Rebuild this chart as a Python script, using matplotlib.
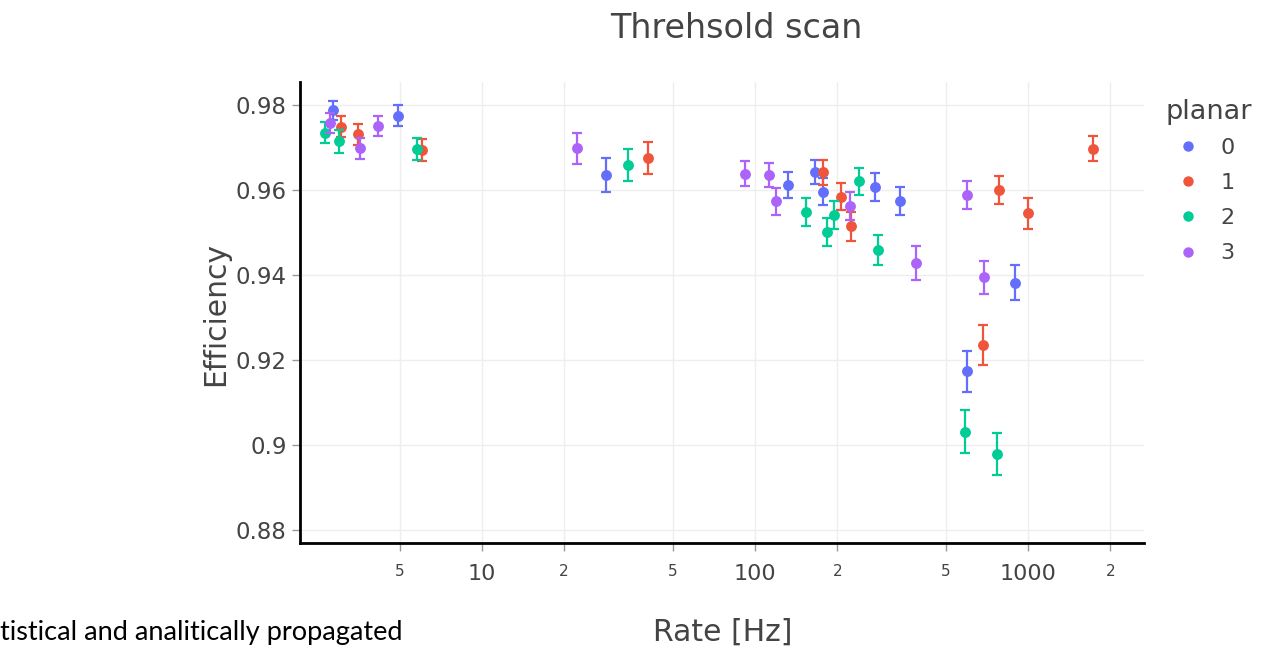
import numpy as np
import matplotlib
matplotlib.use("Agg")
import matplotlib.pyplot as plt
from matplotlib.lines import Line2D
from matplotlib.ticker import FixedLocator


# values (rate in Hz, efficiency, half error)
planars = ["0", "1", "2", "3"]
colors = ["#636efa", "#EF553B", "#00cc96", "#ab63fa"]

rate_0 = [2.86, 4.92, 28.6, 132, 166, 178, 276, 340, 597, 894]
eff_0 = [0.9787, 0.9775, 0.9635, 0.9611, 0.9642, 0.9596, 0.9606, 0.9574, 0.9173, 0.9382]
err_0 = [0.0023, 0.0024, 0.0040, 0.0030, 0.0029, 0.0031, 0.0033, 0.0033, 0.0048, 0.0042]

rate_1 = [3.04, 3.51, 6.02, 40.6, 178, 207, 225, 681, 779, 1002, 1733]
eff_1 = [0.9749, 0.9731, 0.9693, 0.9675, 0.9641, 0.9584, 0.9514, 0.9235, 0.9599, 0.9545, 0.9697]
err_1 = [0.0024, 0.0025, 0.0026, 0.0038, 0.0030, 0.0032, 0.0035, 0.0047, 0.0033, 0.0037, 0.0029]

rate_2 = [2.67, 3.00, 5.77, 34.3, 154, 184, 195, 241, 281, 587, 766]
eff_2 = [0.9735, 0.9714, 0.9696, 0.9659, 0.9549, 0.9500, 0.9541, 0.9620, 0.9459, 0.9031, 0.8979]
err_2 = [0.0025, 0.0026, 0.0026, 0.0038, 0.0033, 0.0033, 0.0033, 0.0032, 0.0035, 0.0051, 0.0050]

rate_3 = [2.77, 3.58, 4.18, 22.4, 92.1, 113, 119, 223, 388, 595, 687]
eff_3 = [0.9757, 0.9698, 0.9751, 0.9698, 0.9638, 0.9635, 0.9573, 0.9562, 0.9429, 0.9588, 0.9394]
err_3 = [0.0023, 0.0025, 0.0024, 0.0036, 0.0029, 0.0029, 0.0031, 0.0032, 0.0040, 0.0032, 0.0038]

rates = [rate_0, rate_1, rate_2, rate_3]
effs = [eff_0, eff_1, eff_2, eff_3]
errs = [err_0, err_1, err_2, err_3]

y_ticks = [0.88, 0.90, 0.92, 0.94, 0.96, 0.98]
y_tick_labels = ["0.88", "0.9", "0.92", "0.94", "0.96", "0.98"]
x_major = [10, 100, 1000]
x_major_labels = ["10", "100", "1000"]
x_minor = [5, 20, 50, 200, 500, 2000]
x_minor_labels = ["5", "2", "5", "2", "5", "2"]

text_col = "#444444"
plt.rcParams['font.family'] = ['DejaVu Sans']

fig = plt.figure(figsize=(12.68, 6.56), dpi=100)
ax = fig.add_axes([0.2366, 0.1723, 0.9022 - 0.2366, 0.875 - 0.1723])

for i in range(len(planars)):
    ax.errorbar(rates[i], effs[i], yerr=errs[i], fmt='o', color=colors[i],
                markersize=6.8, elinewidth=1.6, capsize=3.8, capthick=1.6,
                zorder=3 + i)

ax.set_xscale('log')
ax.set_xlim(2.16, 2655)
ax.set_ylim(0.8769, 0.9854)

ax.xaxis.set_major_locator(FixedLocator(x_major))
ax.xaxis.set_minor_locator(FixedLocator(x_minor))
ax.set_xticklabels(x_major_labels)
ax.set_xticklabels(x_minor_labels, minor=True)
ax.set_yticks(y_ticks)
ax.set_yticklabels(y_tick_labels)

ax.tick_params(axis='x', which='major', length=6, width=1, color='#999999',
               labelsize=16, labelcolor=text_col, pad=9)
ax.tick_params(axis='x', which='minor', length=6, width=1, color='#999999',
               labelsize=11, labelcolor=text_col, pad=9)
ax.tick_params(axis='y', length=5.5, width=1, color='#999999',
               labelsize=16.5, labelcolor=text_col, pad=4)

ax.grid(True, which='both', color='#eeeeee', linewidth=1, zorder=0)
ax.set_axisbelow(True)
for s in ['top', 'right']:
    ax.spines[s].set_visible(False)
for s in ['left', 'bottom']:
    ax.spines[s].set_linewidth(2)
    ax.spines[s].set_color('black')

fig.text(0.5805, 0.957, "Threhsold scan", ha='center', va='center',
         fontsize=24, color=text_col)
fig.text(0.570, 0.036, "Rate [Hz]", ha='center', va='center',
         fontsize=21.5, color=text_col)
fig.text(0.170, 0.521, "Efficiency", ha='center', va='center', rotation=90,
         fontsize=21.5, color=text_col)
fig.text(0.0, 0.036, "tistical and analitically propagated", ha='left',
         va='center', fontsize=19.5, color='black', family=['Lato', 'DejaVu Sans'])

# legend: title as separate text so its spacing matches plotly's
fig.text(0.9188, 1 - 112 / 656, "planar", ha='left', va='center',
         fontsize=19.5, color=text_col)
handles = [Line2D([], [], marker='o', linestyle='none', color=c, markersize=7.5,
                  markeredgewidth=0) for c in colors]
leg = fig.legend(handles, planars, loc='upper left',
                 bbox_to_anchor=(0.9195, 1 - 138 / 656), frameon=False, fontsize=16,
                 handlelength=2.0, handletextpad=0.45, borderaxespad=0,
                 labelspacing=0.68, borderpad=0)
for t in leg.get_texts():
    t.set_color(text_col)

fig.savefig("out.png", dpi=100)
